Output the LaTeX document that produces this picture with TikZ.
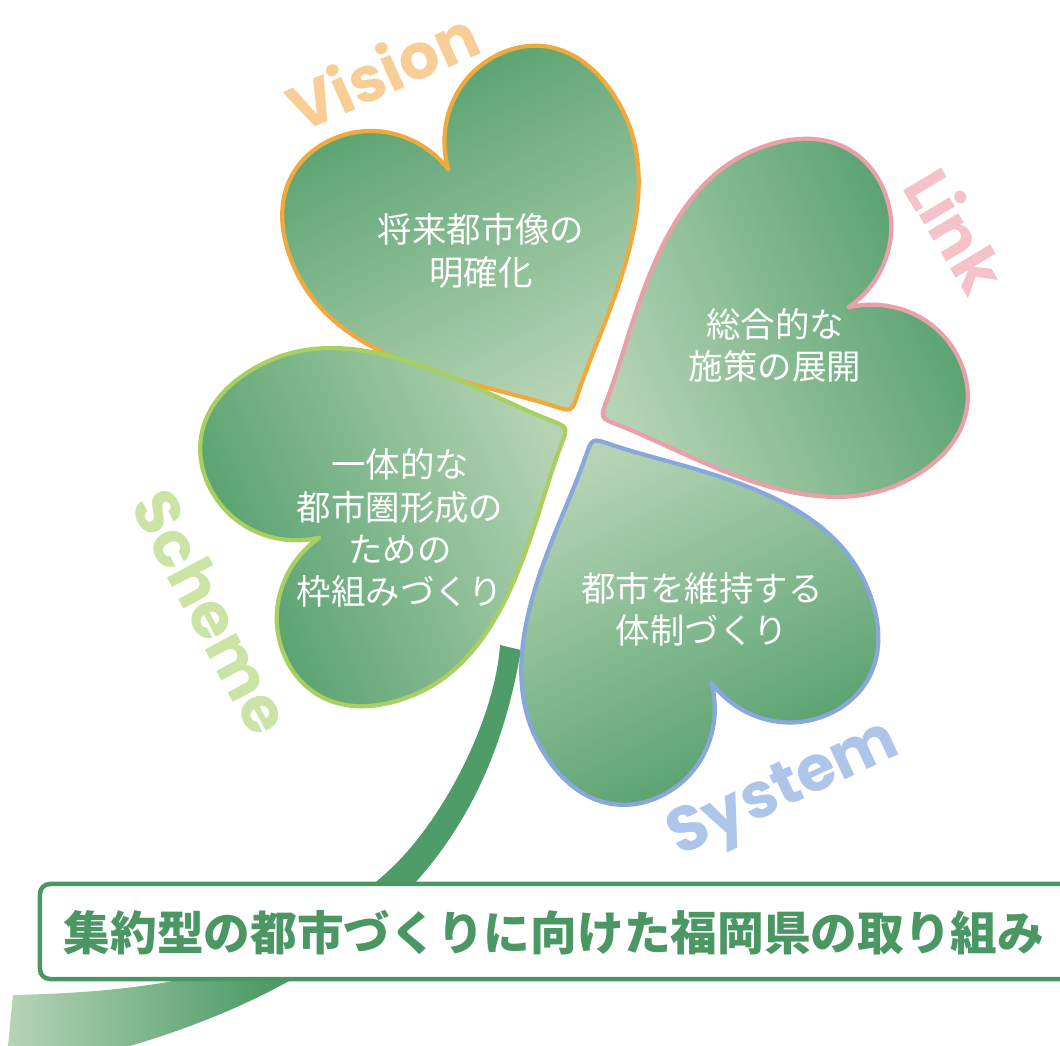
\documentclass[tikz,border=0pt]{standalone}
\usepackage{fontspec}
\newfontfamily\jpfont{Noto Sans CJK JP}
\newfontfamily\tagfont{Poppins}
\definecolor{leafdark}{HTML}{4E9C68}
\definecolor{leaflight}{HTML}{B6D4B4}
\definecolor{visline}{HTML}{F0A93C}
\definecolor{vistext}{HTML}{F8CE96}
\definecolor{linkline}{HTML}{EAA0A8}
\definecolor{linktext}{HTML}{F4C2C8}
\definecolor{schline}{HTML}{A8CF62}
\definecolor{schtext}{HTML}{CBE3A4}
\definecolor{sysline}{HTML}{88A8DB}
\definecolor{systext}{HTML}{ADC5E9}
\definecolor{titlegreen}{HTML}{4A9763}

\begin{document}
\begin{tikzpicture}[x=0.25mm,y=-0.25mm]
\tikzset{
  leafbody/.style={line width=3pt,line join=round,top color=leafdark,bottom color=leaflight},
  pics/leaf/.style 2 args={code={
    \path[leafbody,draw=#1,shading angle=#2] (-14,14) .. controls (0,0) .. (14,14)
      .. controls (70,70) and (185,145) .. (182,250)
      .. controls (180,320) and (140,352) .. (95,352)
      .. controls (45,352) and (8,315) .. (0,272)
      .. controls (-8,315) and (-45,352) .. (-95,352)
      .. controls (-140,352) and (-180,320) .. (-182,250)
      .. controls (-185,145) and (-70,70) .. (-14,14) -- cycle;
  }},
  word/.style={text=white,align=center,font=\jpfont\fontsize{24.5}{30}\selectfont},
  tag/.style={font=\tagfont\bfseries\fontsize{45}{45}\selectfont,inner sep=0pt},
  banner/.style={draw=titlegreen,line width=3.2pt,fill=white,rounded corners=7pt,
    minimum width=262mm,minimum height=23.75mm,inner sep=0pt},
  stem/.style={left color=leaflight,right color=leafdark,middle color=leafdark}
}
\useasboundingbox (0,0) rectangle (1060,1046);

% stem, running down behind the title band
\path[stem] (500,645) -- (521,650) .. controls (495,800) and (420,960) .. (130,1046)
  -- (8,1046) -- (13,995) .. controls (150,992) and (290,975) .. (378,880)
  .. controls (440,830) and (495,720) .. (500,645) -- cycle;

% the four leaves
\pic[rotate=207] (vision) at (572,412) {leaf={visline}{27}};
\pic[rotate=114] (link) at (600,418) {leaf={linkline}{-66}};
\pic[rotate=294] (scheme) at (568,427) {leaf={schline}{114}};
\pic[rotate=26] (system) at (592,438) {leaf={sysline}{206}};

\node[word] (visword) at (481,251) {将来都市像の\\明確化};
\node[word] (linkword) at (775,345) {総合的な\\施策の展開};
\node[word] (schword) at (400,528) {一体的な\\都市圏形成の\\ための\\枠組みづくり};
\node[word] (sysword) at (702,609) {都市を維持する\\体制づくり};

\node[tag,text=vistext,rotate=24] (vislabel) at (382,70) {Vision};
\node[tag,text=linktext,rotate=-59] (linklabel) at (957,230) {Link};
\node[tag,text=schtext,rotate=-62] (schlabel) at (212,612) {Scheme};
\node[tag,text=systext,rotate=25] (syslabel) at (785,792) {System};

% title band
\node[banner] (band) at (564,931.5) {};
\node[text=titlegreen,font=\jpfont\bfseries\fontsize{33.2}{34}\selectfont] (title) at (554,933)
  {集約型の都市づくりに向けた福岡県の取り組み};
\end{tikzpicture}
\end{document}
